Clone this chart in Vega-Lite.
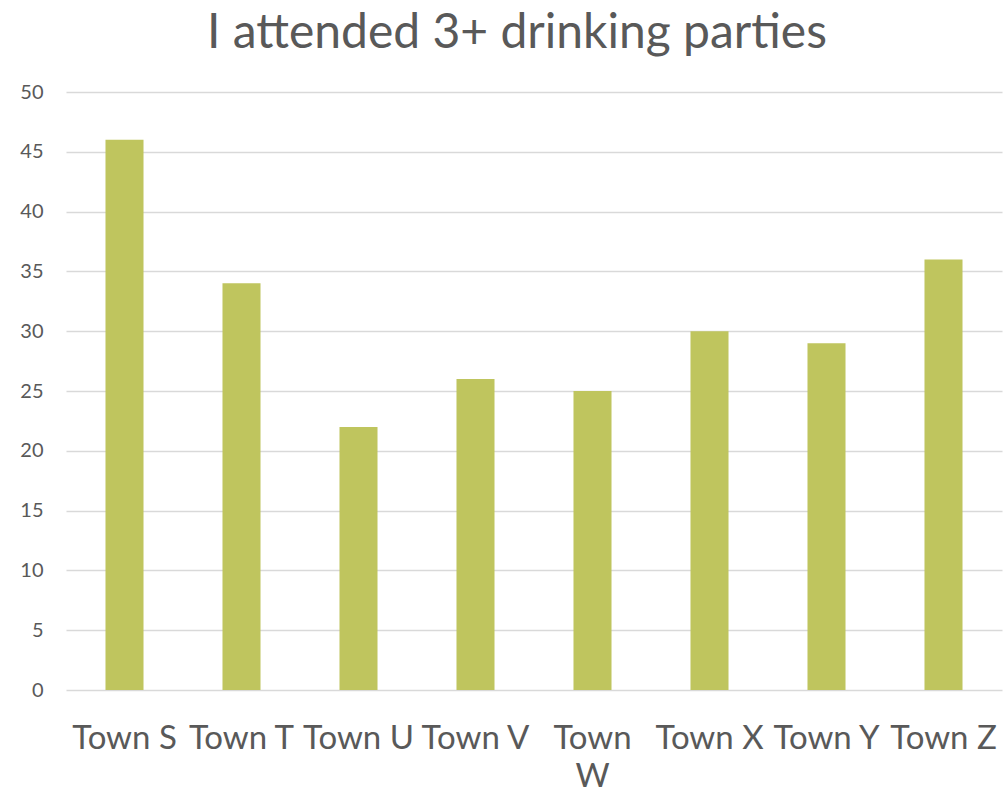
{
  "$schema": "https://vega.github.io/schema/vega-lite/v6.json",
  "autosize": "none",
  "width": 936,
  "height": 598,
  "padding": {"left": 66, "top": 92, "right": 5, "bottom": 108},
  "background": "white",
  "config": {"view": {"stroke": null}, "font": "Lato"},
  "title": {
    "text": "I attended 3+ drinking parties",
    "fontSize": 48,
    "font": "Lato",
    "fontWeight": "normal",
    "color": "#595959",
    "anchor": "middle",
    "offset": 24,
    "dx": -17
  },
  "data": {
    "values": [
      {"town": "Town S", "value": 46},
      {"town": "Town T", "value": 34},
      {"town": "Town U", "value": 22},
      {"town": "Town V", "value": 26},
      {"town": "Town W", "value": 25},
      {"town": "Town X", "value": 30},
      {"town": "Town Y", "value": 29},
      {"town": "Town Z", "value": 36}
    ]
  },
  "mark": {"type": "bar", "color": "#BFC55E"},
  "encoding": {
    "x": {
      "field": "town",
      "type": "nominal",
      "sort": null,
      "scale": {"paddingInner": 0.675, "paddingOuter": 0.3375},
      "axis": {
        "title": null,
        "labelAngle": 0,
        "domain": false,
        "ticks": false,
        "labelFontSize": 33,
        "labelColor": "#595959",
        "labelPadding": 32,
        "labelLineHeight": 38,
        "labelExpr": "datum.label == 'Town W' ? ['Town', 'W'] : datum.label"
      }
    },
    "y": {
      "field": "value",
      "type": "quantitative",
      "scale": {"domain": [0, 50]},
      "axis": {
        "title": null,
        "values": [0, 5, 10, 15, 20, 25, 30, 35, 40, 45, 50],
        "domain": false,
        "ticks": false,
        "labelFontSize": 20,
        "labelColor": "#595959",
        "labelPadding": 23,
        "gridColor": "#D9D9D9",
        "gridWidth": 1.5
      }
    }
  }
}
